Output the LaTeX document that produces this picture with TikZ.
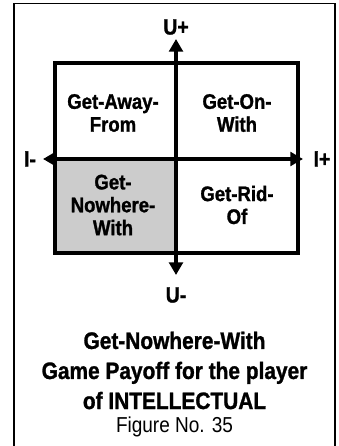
\documentclass[tikz,border=0pt]{standalone}
\usepackage{fontspec}
\setmainfont{Liberation Sans}[FakeStretch=0.88, BoldFeatures={FakeBold=1.2}]
\usetikzlibrary{arrows.meta}

\tikzset{
  quad/.style={align=center, font=\bfseries\fontsize{20}{21.7}\selectfont},
  axlabel/.style={font=\bfseries\fontsize{21}{22}\selectfont},
  axis/.style={line width=3pt, {Triangle[length=12pt,width=13pt]}-{Triangle[length=12pt,width=13pt]}}
}

\begin{document}
\begin{tikzpicture}[line join=miter]

	\useasboundingbox (-5.867,5.3) rectangle (5.433,-9.567);

	% Outer frame, open at the bottom
	\draw[line width=1.6pt] (-5.4,-9.7) -- (-5.4,5.183) -- (5.3,5.183) -- (5.3,-9.7);

	% Shaded quadrant and the square
	\fill[gray!40] (-4.033,0) rectangle (0,-3.133);
	\draw[line width=3.2pt] (-4.033,3.2) rectangle (4.067,-3.133);

	% Axes
	\coordinate (utop) at (0,4.0);
	\coordinate (ubot) at (0,-3.867);
	\coordinate (ileft) at (-4.433,0);
	\coordinate (iright) at (4.233,0);
	\draw[axis] (ubot) -- (utop);
	\draw[axis] (ileft) -- (iright);

	% Axis labels
	\node[axlabel] (uplus) at (0,4.4) {U+};
	\node[axlabel] (uminus) at (0,-4.533) {U-};
	\node[axlabel] (iminus) at (-4.867,0) {I-};
	\node[axlabel] (iplus) at (4.867,0) {I+};

	% Quadrants
	\node[quad] (away) at (-2.1,1.533) {Get-Away-\\From};
	\node[quad] (on) at (2.033,1.533) {Get-On-\\With};
	\node[quad] (nowhere) at (-2.1,-1.533) {Get-\\Nowhere-\\With};
	\node[quad] (rid) at (2.033,-1.533) {Get-Rid-\\Of};

	% Caption
	\node[align=center, font=\bfseries\fontsize{22.5}{28.5}\selectfont] (title) at (-0.05,-7.05)
		{Get-Nowhere-With\\Game Payoff for the player\\of INTELLECTUAL};
	\node[font=\fontsize{20.5}{22}\selectfont] (fig) at (-0.05,-8.933) {Figure No. 35};

\end{tikzpicture}
\end{document}
